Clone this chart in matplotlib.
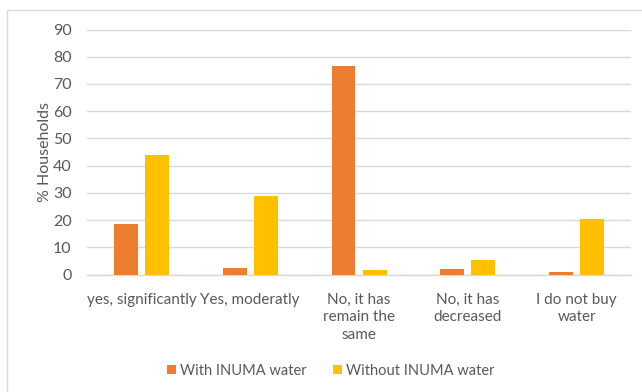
import numpy as np
import matplotlib.pyplot as plt
from matplotlib.patches import Rectangle

categories = [
    "yes, significantly",
    "Yes, moderatly",
    "No, it has\nremain the\nsame",
    "No, it has\ndecreased",
    "I do not buy\nwater",
]
with_inuma = [18.4, 2.3, 76.5, 1.9, 0.9]
without_inuma = [43.9, 29.0, 1.7, 5.2, 20.4]
series_names = ["With INUMA water", "Without INUMA water"]
yticks = list(range(0, 100, 10))

ORANGE = "#ED7D31"
YELLOW = "#FFC000"
TEXT = "#595959"
GRID = "#D9D9D9"

plt.rcParams["font.family"] = ["Lato", "DejaVu Sans"]

fig = plt.figure(figsize=(6.42, 3.92), dpi=100)
ax = fig.add_axes([0.1355, 0.2997, 0.8475, 0.625])

# chart frame (runs off the right and bottom edges)
fig.patches.append(Rectangle((7 / 642, -0.05), 1.0, 1 - 10 / 392 + 0.05,
                             transform=fig.transFigure, fill=False,
                             edgecolor=GRID, linewidth=1.0))

x = np.arange(len(categories))
w = 0.22
off = 0.143
ax.bar(x - off, with_inuma, w, color=ORANGE, label=series_names[0], zorder=3)
ax.bar(x + off, without_inuma, w, color=YELLOW, label=series_names[1], zorder=3)

ax.set_xlim(-0.5, len(categories) - 0.5)
ax.set_ylim(0, 90)
ax.set_yticks(yticks)
ax.set_yticklabels([str(t) for t in yticks], fontsize=11.5, color=TEXT)
ax.set_xticks(x)
ax.set_xticklabels(categories, fontsize=11, color=TEXT, linespacing=1.35)
ax.tick_params(axis="both", length=0)
ax.tick_params(axis="x", pad=13)
ax.tick_params(axis="y", pad=11)

ax.grid(axis="y", color=GRID, linewidth=1.0, zorder=0)
for s in ["top", "right", "left"]:
    ax.spines[s].set_visible(False)
ax.spines["bottom"].set_color(GRID)
ax.spines["bottom"].set_linewidth(1.0)

ax.set_ylabel("% Households", fontsize=11.5, color=TEXT, labelpad=1)

fig.legend(loc="center", bbox_to_anchor=(0.5156, 1 - 371 / 392), ncol=2,
           frameon=False, fontsize=10.5, labelcolor=TEXT, handlelength=0.6,
           handleheight=0.6, handletextpad=0.3, columnspacing=1.8)

fig.savefig("out.png", dpi=100)
